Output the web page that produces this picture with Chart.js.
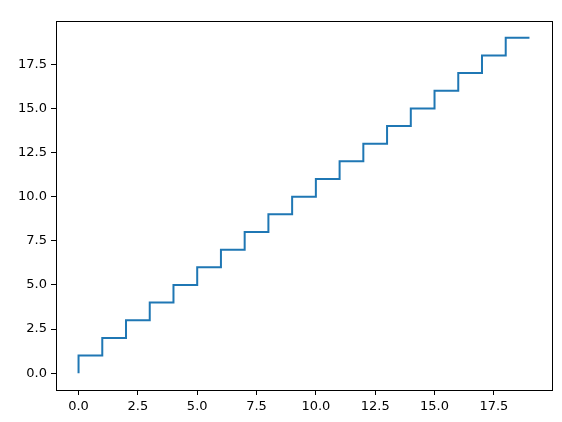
<!DOCTYPE html>
<html>
<head>
<meta charset="utf-8">
<script src="https://cdn.jsdelivr.net/npm/chart.js@4.4.1/dist/chart.umd.min.js"></script>
<style>
  html, body { margin: 0; padding: 0; background: #fff; }
  canvas { display: block; }
</style>
</head>
<body>
<canvas id="grafico" width="562" height="422"></canvas>
<script>
const valoresX = [0, 1, 2, 3, 4, 5, 6, 7, 8, 9, 10, 11, 12, 13, 14, 15, 16, 17, 18, 19];
const valoresY = [0, 1, 2, 3, 4, 5, 6, 7, 8, 9, 10, 11, 12, 13, 14, 15, 16, 17, 18, 19];
const ticksX = [0, 2.5, 5, 7.5, 10, 12.5, 15, 17.5];
const ticksY = [0, 2.5, 5, 7.5, 10, 12.5, 15, 17.5];

const pontos = valoresX.map((x, i) => ({ x: x, y: valoresY[i] }));

// moldura preta em volta da área do gráfico
const moldura = {
    id: 'moldura',
    afterDraw(chart) {
        const a = chart.chartArea;
        const ctx = chart.ctx;
        ctx.save();
        ctx.strokeStyle = '#000';
        ctx.lineWidth = 1;
        ctx.strokeRect(Math.round(a.left) + 0.5, Math.round(a.top) + 0.5,
            Math.round(a.right - a.left), Math.round(a.bottom - a.top));
        ctx.restore();
    }
};

const fonte = { family: 'DejaVu Sans', size: 13 };

function eixo(ticks, tamanho, ehX) {
    return {
        type: 'linear',
        min: -0.95,
        max: 19.95,
        afterBuildTicks: s => { s.ticks = ticks.map(v => ({ value: v })); },
        afterFit: s => { if (ehX) s.height = tamanho; else s.width = tamanho; },
        grid: { drawOnChartArea: false, drawTicks: true, tickLength: 5, color: '#000' },
        border: { display: false },
        ticks: {
            color: '#000',
            font: fonte,
            padding: 4,
            maxRotation: 0,
            autoSkip: false,
            callback: v => v.toFixed(1)
        }
    };
}

new Chart(document.getElementById('grafico').getContext('2d'), {
    type: 'scatter',
    data: {
        datasets: [{
            data: pontos,
            showLine: true,
            stepped: 'after',
            borderColor: '#1f77b4',
            borderWidth: 2,
            pointRadius: 0,
            fill: false
        }]
    },
    options: {
        responsive: false,
        animation: false,
        layout: { padding: { left: 0, right: 10, top: 21, bottom: 0 } },
        plugins: { legend: { display: false }, tooltip: { enabled: false } },
        scales: {
            x: eixo(ticksX, 32, true),
            y: eixo(ticksY, 56, false)
        }
    },
    plugins: [moldura]
});
</script>
</body>
</html>
